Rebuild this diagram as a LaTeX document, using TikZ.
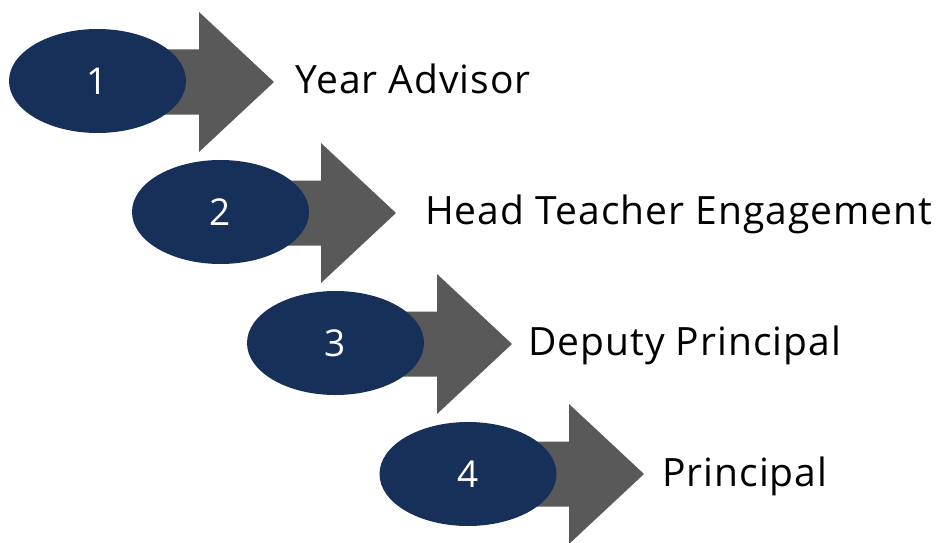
\documentclass[tikz,border=0pt]{standalone}
\usepackage{fontspec}
\setmainfont{Open Sans}
\newfontfamily\labelfont[LetterSpace=2.6]{Open Sans}
\usetikzlibrary{shapes.geometric}
\definecolor{navy}{HTML}{17305A}
\definecolor{arrowgray}{HTML}{595959}
\tikzset{
  x=1pt,y=-1pt,
  stepoval/.style={ellipse,fill=navy,draw=none,minimum width=177pt,minimum height=104pt,inner sep=0pt,text=white,font=\fontsize{37}{44}\selectfont},
  steplabel/.style={anchor=base west,inner sep=0pt,text=black,font=\labelfont\fontsize{39}{47}\selectfont},
  bigarrow/.style={fill=arrowgray,draw=none}
}
\newcommand{\myarrow}[3]{% center x, center y, head x
  \fill[bigarrow] (#1,#2-32.5) -- (#3,#2-32.5) -- (#3,#2-70) -- (#3+75,#2) -- (#3,#2+70) -- (#3,#2+32.5) -- (#1,#2+32.5) -- cycle;}
\begin{document}
\begin{tikzpicture}
\useasboundingbox (0,0) rectangle (939,543);
\myarrow{97.5}{82}{199}
\myarrow{220.5}{213}{321}
\myarrow{335.5}{344}{437}
\myarrow{468}{474}{569}
\node[stepoval] (e1) at (97.5,81) {1};
\node[stepoval] (e2) at (220.5,212) {2};
\node[stepoval] (e3) at (335.5,343) {3};
\node[stepoval] (e4) at (468,474) {4};
\node[steplabel] (t1) at (295,93) {Year Advisor};
\node[steplabel] (t2) at (425,224) {Head Teacher Engagement};
\node[steplabel] (t3) at (528,355) {Deputy Principal};
\node[steplabel] (t4) at (662,486) {Principal};
\end{tikzpicture}
\end{document}
